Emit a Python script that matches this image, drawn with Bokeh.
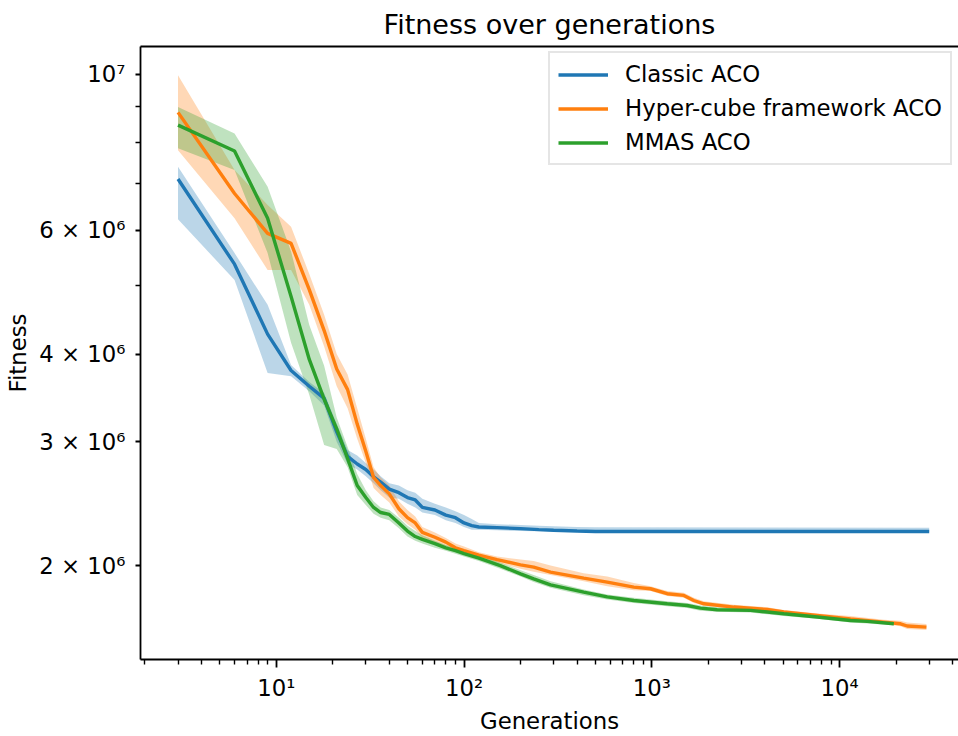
import numpy as np
from bokeh.plotting import figure
from bokeh.models import (Range1d, FixedTicker, CustomJSTickFormatter, LogAxis,
                          Legend, LegendItem)
from bokeh.embed import file_html
from bokeh.resources import INLINE

# ---------------- data (fitness values in millions) ----------------
classic_gen = [3, 6, 9, 12, 15, 18, 21, 24, 27, 30, 33, 36, 40, 45, 50, 55, 60, 70, 80, 90,
               100, 110, 120, 150, 200, 250, 300, 400, 500, 30000]
classic_mean = [7.10, 5.37, 4.27, 3.79, 3.60, 3.46, 3.10, 2.86, 2.79, 2.74, 2.675, 2.63, 2.57, 2.54,
                2.50, 2.48, 2.42, 2.40, 2.36, 2.34, 2.30, 2.28, 2.27, 2.265, 2.258, 2.25, 2.246,
                2.24, 2.237, 2.237]
classic_high = [7.39, 5.57, 4.70, 3.86, 3.65, 3.52, 3.18, 2.92, 2.87, 2.80, 2.74, 2.68, 2.62, 2.60,
                2.56, 2.54, 2.49, 2.45, 2.42, 2.39, 2.36, 2.33, 2.30, 2.29, 2.285, 2.28, 2.275,
                2.27, 2.268, 2.265]
classic_low = [6.22, 5.10, 3.76, 3.72, 3.54, 3.38, 3.00, 2.79, 2.74, 2.68, 2.62, 2.56, 2.50, 2.49,
               2.45, 2.42, 2.38, 2.36, 2.32, 2.30, 2.27, 2.25, 2.25, 2.245, 2.24, 2.238, 2.236,
               2.235, 2.235, 2.235]

hyper_gen = [3, 6, 9, 12, 15, 18, 21, 24, 27, 30, 33, 36, 40, 45, 50, 55, 60, 70, 80, 90,
             100, 120, 150, 200, 235, 289, 434, 579, 802, 984, 1208, 1481, 1673, 1892, 2733,
             4117, 5046, 7599, 11429, 17196, 21100, 22900, 29000]
hyper_mean = [8.83, 6.77, 5.94, 5.75, 4.94, 4.32, 3.81, 3.56, 3.18, 2.91, 2.67, 2.60, 2.53, 2.41,
              2.34, 2.30, 2.23, 2.195, 2.16, 2.12, 2.10, 2.07, 2.04, 2.005, 1.99, 1.958, 1.92,
              1.895, 1.864, 1.854, 1.824, 1.814, 1.784, 1.765, 1.746, 1.732, 1.718, 1.699,
              1.680, 1.662, 1.653, 1.641, 1.635]
hyper_high = [9.97, 7.31, 6.52, 6.07, 5.20, 4.55, 4.00, 3.74, 3.35, 3.03, 2.76, 2.67, 2.60, 2.47,
              2.40, 2.35, 2.27, 2.23, 2.19, 2.15, 2.13, 2.09, 2.06, 2.04, 2.03, 2.00, 1.95,
              1.93, 1.89, 1.87, 1.84, 1.83, 1.80, 1.78, 1.76, 1.745, 1.73, 1.71, 1.695,
              1.675, 1.67, 1.66, 1.652]
hyper_low = [7.80, 6.24, 5.27, 5.27, 4.70, 4.10, 3.60, 3.35, 3.03, 2.80, 2.58, 2.52, 2.46, 2.35,
             2.29, 2.25, 2.19, 2.16, 2.13, 2.10, 2.08, 2.05, 2.02, 1.98, 1.96, 1.94, 1.90,
             1.87, 1.845, 1.84, 1.81, 1.80, 1.77, 1.755, 1.735, 1.72, 1.705, 1.69, 1.67,
             1.652, 1.64, 1.625, 1.62]

mmas_gen = [3, 6, 9, 12, 15, 18, 21, 24, 27, 30, 33, 36, 40, 45, 50, 55, 60, 70, 80, 90,
            100, 120, 156, 200, 235, 289, 434, 579, 802, 1208, 1543, 1817, 2229, 3355, 4117,
            5046, 7599, 11429, 14030, 19440]
mmas_mean = [8.47, 7.78, 6.24, 4.83, 3.93, 3.45, 3.13, 2.84, 2.60, 2.50, 2.42, 2.38, 2.365, 2.30,
             2.24, 2.20, 2.18, 2.15, 2.12, 2.10, 2.08, 2.05, 2.00, 1.947, 1.915, 1.878, 1.834,
             1.805, 1.784, 1.765, 1.755, 1.740, 1.731, 1.727, 1.718, 1.708, 1.690, 1.671,
             1.666, 1.653]
mmas_high = [8.99, 8.24, 6.92, 5.60, 4.40, 3.85, 3.25, 2.95, 2.70, 2.56, 2.47, 2.42, 2.40, 2.34,
             2.28, 2.24, 2.21, 2.17, 2.14, 2.12, 2.10, 2.07, 2.02, 1.97, 1.94, 1.90, 1.85,
             1.82, 1.80, 1.78, 1.77, 1.755, 1.745, 1.74, 1.73, 1.72, 1.70, 1.68, 1.675, 1.66]
mmas_low = [7.85, 7.31, 5.57, 4.15, 3.50, 2.97, 2.93, 2.76, 2.52, 2.44, 2.37, 2.34, 2.32, 2.26,
            2.20, 2.17, 2.15, 2.12, 2.10, 2.08, 2.06, 2.03, 1.98, 1.93, 1.895, 1.86, 1.815,
            1.79, 1.77, 1.75, 1.74, 1.725, 1.72, 1.715, 1.705, 1.695, 1.68, 1.66, 1.655, 1.645]

series_names = ["Classic ACO", "Hyper-cube framework ACO", "MMAS ACO"]
series_colors = ["#1f77b4", "#ff7f0e", "#2ca02c"]

x_major_ticks = [10, 100, 1000, 10000]
x_major_labels = ["10¹", "10²", "10³", "10⁴"]
x_minor_ticks = [2, 3, 4, 5, 6, 7, 8, 9, 20, 30, 40, 50, 60, 70, 80, 90,
                 200, 300, 400, 500, 600, 700, 800, 900,
                 2000, 3000, 4000, 5000, 6000, 7000, 8000, 9000, 20000, 30000, 40000]
y_major_ticks = [2000000, 3000000, 4000000, 6000000, 10000000]
y_major_labels = ["2 × 10⁶", "3 × 10⁶", "4 × 10⁶", "6 × 10⁶", "10⁷"]
y_minor_ticks = [5000000, 7000000, 8000000, 9000000]

FONT = "DejaVu Sans"
M = 1e6

p = figure(width=958, height=736, x_axis_type="log", y_axis_type="log",
           x_range=Range1d(10 ** 0.2774, 10 ** 4.6331),
           y_range=Range1d(1.4704e6, 1.0958e7),
           output_backend="svg", toolbar_location=None,
           min_border_left=140, min_border_right=0, min_border_top=46, min_border_bottom=75,
           background_fill_color="white", border_fill_color="white",
           outline_line_color=None)
p.grid.visible = False

xa = p.below[0]
ya = p.left[0]

p.title.text = "Fitness over generations"
p.title.align = "center"
p.title.text_font = FONT
p.title.text_font_size = "27px"
p.title.text_font_style = "normal"
p.title.text_color = "black"
p.title.offset = 4
p.title.standoff = 13

# top spine
top = LogAxis(ticker=FixedTicker(ticks=[]), major_tick_out=0, major_tick_in=0,
              minor_tick_out=0, minor_tick_in=0, major_label_text_font_size="0px",
              major_label_standoff=0, axis_line_width=1.8, axis_line_color="black")
p.add_layout(top, "above")

xa.ticker = FixedTicker(ticks=x_major_ticks, minor_ticks=x_minor_ticks)
ya.ticker = FixedTicker(ticks=y_major_ticks, minor_ticks=y_minor_ticks)
xa.formatter = CustomJSTickFormatter(args=dict(t=x_major_ticks, l=x_major_labels),
                                     code="const i = t.indexOf(tick); return i >= 0 ? l[i] : '';")
ya.formatter = CustomJSTickFormatter(args=dict(t=y_major_ticks, l=y_major_labels),
                                     code="const i = t.indexOf(tick); return i >= 0 ? l[i] : '';")
xa.axis_label = "Generations"
ya.axis_label = "Fitness"
for ax in (xa, ya):
    ax.axis_line_width = 1.8
    ax.axis_line_color = "black"
    ax.major_tick_line_width = 1.8
    ax.minor_tick_line_width = 1.4
    ax.major_tick_line_color = "black"
    ax.minor_tick_line_color = "black"
    ax.major_tick_in = 0
    ax.minor_tick_in = 0
    ax.minor_tick_out = 5
    ax.major_label_text_font = FONT
    ax.major_label_text_font_size = "22.8px"
    ax.major_label_text_color = "black"
    ax.axis_label_text_font = FONT
    ax.axis_label_text_font_size = "22.8px"
    ax.axis_label_text_font_style = "normal"
    ax.axis_label_text_color = "black"
xa.major_tick_out = 8
xa.major_label_standoff = 7
xa.axis_label_standoff = 4
ya.major_tick_out = 5
ya.major_label_standoff = 10
ya.axis_label_standoff = 5

datasets = [
    (classic_gen, classic_mean, classic_low, classic_high),
    (hyper_gen, hyper_mean, hyper_low, hyper_high),
    (mmas_gen, mmas_mean, mmas_low, mmas_high),
]

for (g, m, lo, hi), c in zip(datasets, series_colors):
    p.varea(x=g, y1=np.array(lo) * M, y2=np.array(hi) * M, fill_color=c, fill_alpha=0.3)

line_renderers = []
for (g, m, lo, hi), c in zip(datasets, series_colors):
    r = p.line(x=g, y=np.array(m) * M, line_color=c, line_width=3.4)
    line_renderers.append(r)

legend = Legend(items=[LegendItem(label=n, renderers=[r]) for n, r in zip(series_names, line_renderers)],
                location=(408, 494), orientation="vertical",
                label_text_font=FONT, label_text_font_size="22.8px", label_text_color="black",
                glyph_width=50, glyph_height=25, label_height=25, label_standoff=17,
                spacing=8, padding=8, margin=0,
                border_line_color="#cccccc", border_line_width=2,
                background_fill_color="white", background_fill_alpha=0.8)
p.add_layout(legend)

open("out.html", "w").write(file_html(p, INLINE))
